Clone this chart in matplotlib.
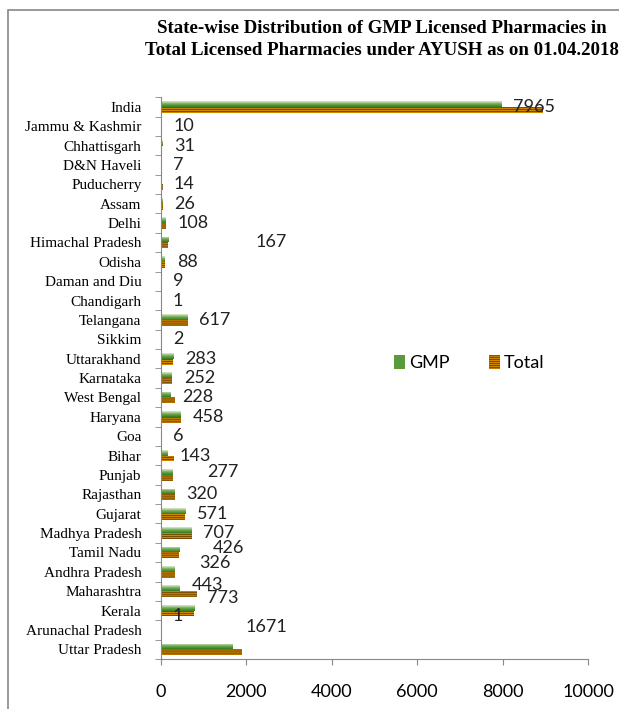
import matplotlib.pyplot as plt
import numpy as np
from matplotlib.colors import LinearSegmentedColormap
from matplotlib.patches import Rectangle

# data (bottom to top)
states = ["Uttar Pradesh", "Arunachal Pradesh", "Kerala", "Maharashtra", "Andhra Pradesh",
          "Tamil Nadu", "Madhya Pradesh", "Gujarat", "Rajasthan", "Punjab", "Bihar", "Goa",
          "Haryana", "West Bengal", "Karnataka", "Uttarakhand", "Sikkim", "Telangana",
          "Chandigarh", "Daman and Diu", "Odisha", "Himachal Pradesh", "Delhi", "Assam",
          "Puducherry", "D&N Haveli", "Chhattisgarh", "Jammu & Kashmir", "India"]
gmp = [1671, 1, 773, 443, 326, 426, 707, 571, 320, 277, 143, 6, 458, 228, 252, 283, 2, 617,
       1, 9, 88, 167, 108, 26, 14, 7, 31, 10, 7965]
total = [1900, 5, 780, 840, 330, 430, 720, 575, 340, 285, 300, 10, 470, 320, 260, 290, 5, 630,
         20, 15, 100, 175, 115, 40, 40, 10, 35, 25, 8950]
xticks = [0, 2000, 4000, 6000, 8000, 10000]

# label offsets in pixels (the labels in the original were moved by hand)
label_shift = {"Himachal Pradesh": (87, 0), "Punjab": (34, 3), "Tamil Nadu": (34, 4),
               "Andhra Pradesh": (24, 9), "Maharashtra": (12, 6), "Kerala": (13, 13),
               "Arunachal Pradesh": (12, 14), "Uttar Pradesh": (13, 22)}

plt.rcParams['hatch.linewidth'] = 0.9

fig = plt.figure(figsize=(6.19, 7.09), dpi=100)
ax = fig.add_axes([0.260, 0.0705, 0.690, 0.7925])

y = np.arange(len(states))
h = 0.3
green = LinearSegmentedColormap.from_list("g", ["#2f7d1f", "#6fa84f", "#dfead2"])

gbars = ax.barh(y + h / 2, gmp, height=h, color="#5a9a3a", linewidth=0, label="GMP")
tbars = ax.barh(y - h / 2, total, height=h, color="#e39200", edgecolor="#7a4c00",
                linewidth=0, hatch="-" * 8, label="Total")

# vertical gradient on the GMP bars
grad = np.linspace(0, 1, 50).reshape(-1, 1)
for b in gbars:
    x0, y0 = b.get_x(), b.get_y()
    im = ax.imshow(grad, cmap=green, aspect="auto", origin="lower",
                   extent=[x0, x0 + b.get_width(), y0, y0 + b.get_height()], zorder=2)
    im.set_clip_path(b)

for i, s in enumerate(states):
    dx, dy = label_shift.get(s, (12, 0))
    ax.annotate(str(gmp[i]), (gmp[i], y[i]), xytext=(dx, dy), textcoords="offset pixels",
                ha="left", va="center", fontsize=13, family="Lato", color="#222222")

ax.set_xlim(0, 10000)
ax.set_ylim(-0.5, len(states) - 0.5)
ax.set_xticks(xticks)
ax.set_xticklabels([str(v) for v in xticks], family="Lato", fontsize=13)
ax.set_yticks(y)
ax.set_yticklabels(states, family="Liberation Serif", fontsize=11)
ax.set_yticks(np.arange(len(states) + 1) - 0.5, minor=True)
ax.tick_params(axis="y", which="major", length=0, pad=14)
ax.tick_params(axis="y", which="minor", length=4, color="#888888")
ax.tick_params(axis="x", length=4, color="#888888", pad=14)

for side in ["top", "right"]:
    ax.spines[side].set_visible(False)
for side in ["left", "bottom"]:
    ax.spines[side].set_color("#888888")

ax.legend(handles=[gbars, tbars], loc="center", bbox_to_anchor=(0.722, 0.527), ncol=2,
          frameon=False, prop={"family": "Lato", "size": 13}, handlelength=0.6,
          handleheight=0.8, handletextpad=0.2, columnspacing=2.2)

fig.text(0.617, 0.944, "State-wise Distribution of GMP Licensed Pharmacies in\n"
         "Total Licensed Pharmacies under AYUSH as on 01.04.2018",
         ha="center", va="center", family="Liberation Serif", fontweight="bold",
         fontsize=13.6, linespacing=1.4)

# chart border (cut off on the right and bottom like the original)
fig.patches.append(Rectangle((8 / 619, -0.1), 1.1, 1.1 - 10 / 709, transform=fig.transFigure,
                             fill=False, edgecolor="#888888", linewidth=1.2))

fig.savefig("out.png", dpi=100)
